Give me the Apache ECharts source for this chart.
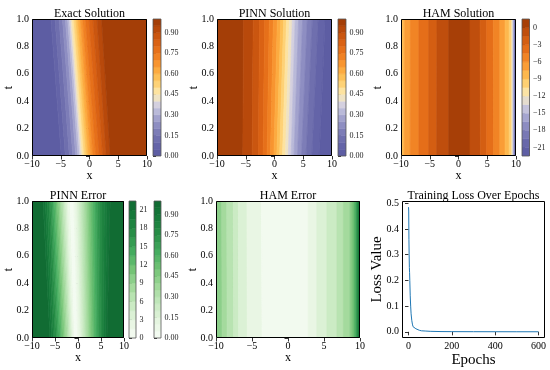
<!DOCTYPE html>
<html><head><meta charset="utf-8">
<script src="https://cdn.jsdelivr.net/npm/echarts@6/dist/echarts.min.js"></script>
<style>html,body{margin:0;padding:0;background:#fff}#c{width:550px;height:370px}</style>
</head><body><div id="c"></div>
<script>
// ---------------- DATA ----------------
// Contour levels
const levels01 = [0,0.05,0.1,0.15,0.2,0.25,0.3,0.35,0.4,0.45,0.5,0.55,0.6,0.65,0.7,0.75,0.8,0.85,0.9,0.95,1.0];
const levelsHam = [-22.5,-21,-19.5,-18,-16.5,-15,-13.5,-12,-10.5,-9,-7.5,-6,-4.5,-3,-1.5,0,1.5];
const levelsErrA = [0,1.5,3,4.5,6,7.5,9,10.5,12,13.5,15,16.5,18,19.5,21,22.5];
// Colorbar tick labels
const ticks01 = [0,0.15,0.3,0.45,0.6,0.75,0.9];
const ticksHam = [-21,-18,-15,-12,-9,-6,-3,0];
const ticksErrA = [0,3,6,9,12,15,18,21];
// Exact solution: contour boundary x at t=0 and t=1, band level index (left to right)
const exactB0 = [-4.9,-4.2,-3.5,-2.9,-2.4,-2.0,-1.7,-1.45,-1.2,-0.9,-0.55,-0.2,0.2,0.6,1.1,1.7,2.3,2.9,3.6];
const exactB1 = [-6.7,-6.0,-5.3,-4.7,-4.2,-3.8,-3.5,-3.25,-3.0,-2.7,-2.35,-2.0,-1.6,-1.2,-0.7,-0.1,0.6,1.3,2.1];
const exactLv = [0,1,2,3,4,5,6,7,8,9,10,11,12,13,14,15,16,17,18,19];
// PINN solution
const pinnB0 = [-5.5,-3.9,-2.8,-2.0,-1.3,-0.7,-0.1,0.4,0.9,1.4,1.9,2.4,2.9,3.4,4.0,4.7,5.5,6.5,7.8];
const pinnB1 = [-5.4,-3.7,-2.6,-1.7,-0.9,-0.2,0.5,1.1,1.6,2.1,2.6,3.1,3.6,4.2,4.9,5.7,6.6,7.6,8.8];
const pinnLv = [19,18,17,16,15,14,13,12,11,10,9,8,7,6,5,4,3,2,1,0];
// HAM solution
const hamB0 = [-9.75,-9.4,-8.4,-6.9,-5.2,-3.8,-1.7,2.0,3.8,4.9,6.1,7.2,8.1,8.8,9.2,9.35,9.48,9.6,9.7,9.78,9.86,9.93];
const hamB1 = [-9.75,-9.35,-8.35,-6.9,-5.2,-3.75,-1.7,2.0,3.75,4.9,6.05,7.2,8.1,8.8,9.2,9.35,9.48,9.6,9.7,9.78,9.86,9.93];
const hamLv = [8,9,10,11,12,13,14,15,14,13,12,11,10,9,8,7,6,5,4,3,2,1,0];
// PINN error
const perrB0 = [-6.1,-5.7,-5.35,-5.0,-4.7,-4.4,-4.1,-3.8,-3.5,-3.2,-2.9,-2.6,-2.3,-2.0,-1.75,-1.5,-1.25,-1.0,-0.75,
                -0.05,0.3,0.65,1.0,1.35,1.7,2.05,2.4,2.75,3.1,3.45,3.8,4.15,4.5,4.85,5.2,5.55,5.9,6.3];
const perrB1 = [-7.6,-7.1,-6.7,-6.3,-6.0,-5.7,-5.4,-5.1,-4.8,-4.5,-4.2,-3.9,-3.6,-3.3,-3.0,-2.7,-2.4,-2.1,-1.7,
                -0.9,-0.5,-0.1,0.3,0.7,1.1,1.5,1.9,2.3,2.7,3.1,3.5,3.9,4.3,4.7,5.2,5.7,6.3,7.0];
const perrLv = [19,18,17,16,15,14,13,12,11,10,9,8,7,6,5,4,3,2,1,0,1,2,3,4,5,6,7,8,9,10,11,12,13,14,15,16,17,18,19];
// HAM error
const herrB0 = [-9.15,-8.45,-7.55,-6.85,-5.65,-3.6,2.8,4.0,5.4,6.8,7.7,8.6,8.9,9.15,9.35,9.5,9.62,9.72,9.82,9.92];
const herrB1 = [-9.2,-8.5,-7.6,-6.9,-5.7,-3.7,2.8,4.0,5.4,6.8,7.7,8.6,8.9,9.15,9.35,9.5,9.62,9.72,9.82,9.92];
const herrLv = [6,5,4,3,2,1,0,1,2,3,4,5,6,7,8,9,10,11,12,13,14];
// Training loss
const lossEpochs = [0,1,2,3,4,5,6,8,10,12,15,18,21,24,27,30,34,40,50,60,80,100,150,200,300,400,500,600];
const lossValues = [0.485,0.47,0.36,0.30,0.25,0.23,0.20,0.14,0.10,0.07,0.045,0.03,0.02,0.016,0.018,0.016,0.012,0.009,0.006,0.004,0.003,0.002,0.001,0.0008,0.0005,0.0004,0.0003,0.0003];
const lossXTicks = [0,200,400,600];
const lossYTicks = [0,0.1,0.2,0.3,0.4,0.5];

// ---------------- STYLE ----------------
const FONT = 'Liberation Serif';
const cmapTop = [[0.025,'#5d5da3'],[0.075,'#6464a8'],[0.125,'#6f6fae'],[0.175,'#7d7db7'],[0.225,'#8e8ec2'],[0.275,'#a2a2cd'],[0.325,'#babad9'],[0.375,'#d4d0df'],[0.425,'#efe3c4'],[0.475,'#fde3a0'],[0.525,'#fed277'],[0.575,'#fdc057'],[0.625,'#fcab40'],[0.675,'#f89530'],[0.725,'#f08123'],[0.775,'#e6701a'],[0.825,'#da6214'],[0.875,'#ca5610'],[0.925,'#b8490b'],[0.975,'#a43e07']];
const cmapGreen = [[0,'#f7fcf5'],[0.125,'#e5f5e0'],[0.25,'#c7e9c0'],[0.375,'#a1d99b'],[0.5,'#74c476'],[0.625,'#46ad60'],[0.75,'#2a9049'],[0.875,'#187c3c'],[1,'#0f6831']];
function hex2rgb(h){return [parseInt(h.slice(1,3),16),parseInt(h.slice(3,5),16),parseInt(h.slice(5,7),16)];}
function cmapColor(cm,p){
  if(p<=cm[0][0]) return cm[0][1];
  if(p>=cm[cm.length-1][0]) return cm[cm.length-1][1];
  for(let i=0;i<cm.length-1;i++){
    const a=cm[i],b=cm[i+1];
    if(p>=a[0]&&p<=b[0]){
      const f=(p-a[0])/(b[0]-a[0]); const ca=hex2rgb(a[1]),cb=hex2rgb(b[1]);
      return 'rgb('+ca.map((v,k)=>Math.round(v+(cb[k]-v)*f)).join(',')+')';
    }
  }
}
const minus = s => String(s).replace('-','\u2212');

const grids=[], xAxes=[], yAxes=[], series=[], graphics=[];
function addGrid(r){grids.push(Object.assign({show:false,containLabel:false,outerBoundsMode:'none'},r));return grids.length-1;}
const tickStyle = {show:true,inside:false,length:3.5,lineStyle:{color:'#000',width:0.8}};
const lblStyle = {fontSize:10,fontFamily:FONT,color:'#000'};
function frameSeries(gi,lw){
  series.push({type:'custom',xAxisIndex:gi,yAxisIndex:gi,silent:true,z:10,clip:false,data:[[0,0]],
    renderItem:(params)=>{const cs=params.coordSys;
      return {type:'rect',shape:{x:Math.round(cs.x)+0.5,y:Math.round(cs.y)+0.5,width:Math.round(cs.width)-1,height:Math.round(cs.height)-1},
        style:{fill:'none',stroke:'#000',lineWidth:lw||1}};}});
}
function title(text,r){
  graphics.push({type:'text',x:r.left+r.width/2,y:r.top+0.5,style:{text,fontSize:12,fontFamily:FONT,fill:'#000',align:'center',verticalAlign:'bottom'}});
}
function fieldPanel(r,B0,B1,lv,nb,cm,ttl){
  const gi=addGrid(r);
  xAxes.push({gridIndex:gi,type:'value',min:-10,max:10,interval:5,axisLine:{show:false},axisTick:tickStyle,splitLine:{show:false},
    axisLabel:Object.assign({margin:3,formatter:v=>minus(v)},lblStyle),
    name:'x',nameLocation:'middle',nameGap:14,nameMoveOverlap:false,nameTextStyle:{fontSize:12,fontFamily:FONT,color:'#000'}});
  yAxes.push({gridIndex:gi,type:'value',min:0,max:1,interval:0.2,axisLine:{show:false},axisTick:tickStyle,splitLine:{show:false},
    axisLabel:Object.assign({margin:3,formatter:v=>v.toFixed(1)},lblStyle),
    name:'t',nameLocation:'middle',nameRotate:90,nameGap:17,nameMoveOverlap:false,nameTextStyle:{fontSize:12,fontFamily:FONT,color:'#000'}});
  const n=lv.length;
  series.push({type:'custom',xAxisIndex:gi,yAxisIndex:gi,silent:true,clip:true,
    data:lv.map((l,i)=>[i,l]),
    renderItem:(params,api)=>{
      const i=api.value(0), l=api.value(1);
      const xl0=i===0?-10:B0[i-1], xl1=i===0?-10:B1[i-1];
      const xr0=i===n-1?10:B0[i], xr1=i===n-1?10:B1[i];
      const pts=[api.coord([xl0,0]),api.coord([xr0,0]),api.coord([xr1,1]),api.coord([xl1,1])];
      const c=cmapColor(cm,(l+0.5)/nb);
      return {type:'polygon',shape:{points:pts},style:{fill:c,stroke:c,lineWidth:0.7}};
    }});
  frameSeries(gi);
  if(ttl) title(ttl,r);
}
function colorbar(r,lev,cm,ticks,fmt){
  const gi=addGrid(r);
  xAxes.push({gridIndex:gi,type:'value',min:0,max:1,show:false});
  yAxes.push({gridIndex:gi,type:'value',position:'right',min:lev[0],max:lev[lev.length-1],axisLine:{show:false},splitLine:{show:false},
    axisTick:Object.assign({},tickStyle,{length:3,customValues:ticks}),
    axisLabel:{customValues:ticks,formatter:fmt,fontSize:8,fontFamily:FONT,color:'#222',margin:3.5}});
  const nb=lev.length-1;
  series.push({type:'custom',xAxisIndex:gi,yAxisIndex:gi,silent:true,clip:true,
    data:lev.slice(0,-1).map((v,i)=>[i]),
    renderItem:(params,api)=>{
      const i=api.value(0);
      const p1=api.coord([0,lev[i+1]]), p2=api.coord([1,lev[i]]);
      const c=cmapColor(cm,(i+0.5)/nb);
      return {type:'rect',shape:{x:p1[0],y:p1[1],width:p2[0]-p1[0],height:p2[1]-p1[1]},style:{fill:c,stroke:c,lineWidth:0.5}};
    }});
  series.push({type:'custom',xAxisIndex:gi,yAxisIndex:gi,silent:true,z:10,clip:false,data:[[0,0]],
    renderItem:(params)=>{const cs=params.coordSys;
      return {type:'rect',shape:{x:cs.x,y:cs.y,width:cs.width,height:cs.height},style:{fill:'none',stroke:'#555',lineWidth:0.8}};}});
}

const R = {
  exact:{left:32,top:19,width:115,height:137}, exactCb:{left:153,top:19,width:8,height:137},
  pinn:{left:217,top:19,width:115,height:137}, pinnCb:{left:338,top:19,width:8,height:137},
  ham:{left:401,top:19,width:115,height:137}, hamCb:{left:522,top:19,width:7.5,height:137},
  perr:{left:32,top:201,width:92,height:137}, perrCbA:{left:129,top:201,width:7,height:137}, perrCbB:{left:154,top:201,width:7,height:137},
  herr:{left:216,top:201,width:144,height:137},
  loss:{left:402,top:201,width:143,height:137}
};
const f2 = v=>v.toFixed(2);
fieldPanel(R.exact,exactB0,exactB1,exactLv,20,cmapTop,'Exact Solution');
colorbar(R.exactCb,levels01,cmapTop,ticks01,f2);
fieldPanel(R.pinn,pinnB0,pinnB1,pinnLv,20,cmapTop,'PINN Solution');
colorbar(R.pinnCb,levels01,cmapTop,ticks01,f2);
fieldPanel(R.ham,hamB0,hamB1,hamLv,16,cmapTop,'HAM Solution');
colorbar(R.hamCb,levelsHam,cmapTop,ticksHam,v=>minus(v));
fieldPanel(R.perr,perrB0,perrB1,perrLv,20,cmapGreen,'PINN Error');
colorbar(R.perrCbA,levelsErrA,cmapGreen,ticksErrA,v=>String(v));
colorbar(R.perrCbB,levels01,cmapGreen,ticks01,f2);
fieldPanel(R.herr,herrB0,herrB1,herrLv,15,cmapGreen,'HAM Error');

// loss panel
(function(){
  const r=R.loss, gi=addGrid(r);
  xAxes.push({gridIndex:gi,type:'value',min:-30,max:630,axisLine:{show:false},splitLine:{show:false},
    axisTick:Object.assign({},tickStyle,{customValues:lossXTicks}),
    axisLabel:Object.assign({margin:3,customValues:lossXTicks},lblStyle),
    name:'Epochs',nameLocation:'middle',nameGap:15,nameMoveOverlap:false,nameTextStyle:{fontSize:15,fontFamily:FONT,color:'#000'}});
  yAxes.push({gridIndex:gi,type:'value',min:-0.024,max:0.509,axisLine:{show:false},splitLine:{show:false},
    axisTick:Object.assign({},tickStyle,{customValues:lossYTicks}),
    axisLabel:Object.assign({margin:3,customValues:lossYTicks,formatter:v=>v.toFixed(1)},lblStyle),
    name:'Loss Value',nameLocation:'middle',nameRotate:90,nameGap:17,nameMoveOverlap:false,nameTextStyle:{fontSize:15,fontFamily:FONT,color:'#000'}});
  series.push({type:'line',xAxisIndex:gi,yAxisIndex:gi,data:lossEpochs.map((e,i)=>[e,lossValues[i]]),
    showSymbol:false,symbol:'none',lineStyle:{color:'#1f77b4',width:1},silent:true,animation:false});
  frameSeries(gi);
  title('Training Loss Over Epochs',r);
})();

const chart = echarts.init(document.getElementById('c'),null,{renderer:'canvas'});
chart.setOption({animation:false,backgroundColor:'#fff',grid:grids,xAxis:xAxes,yAxis:yAxes,series,graphic:graphics});
</script></body></html>
